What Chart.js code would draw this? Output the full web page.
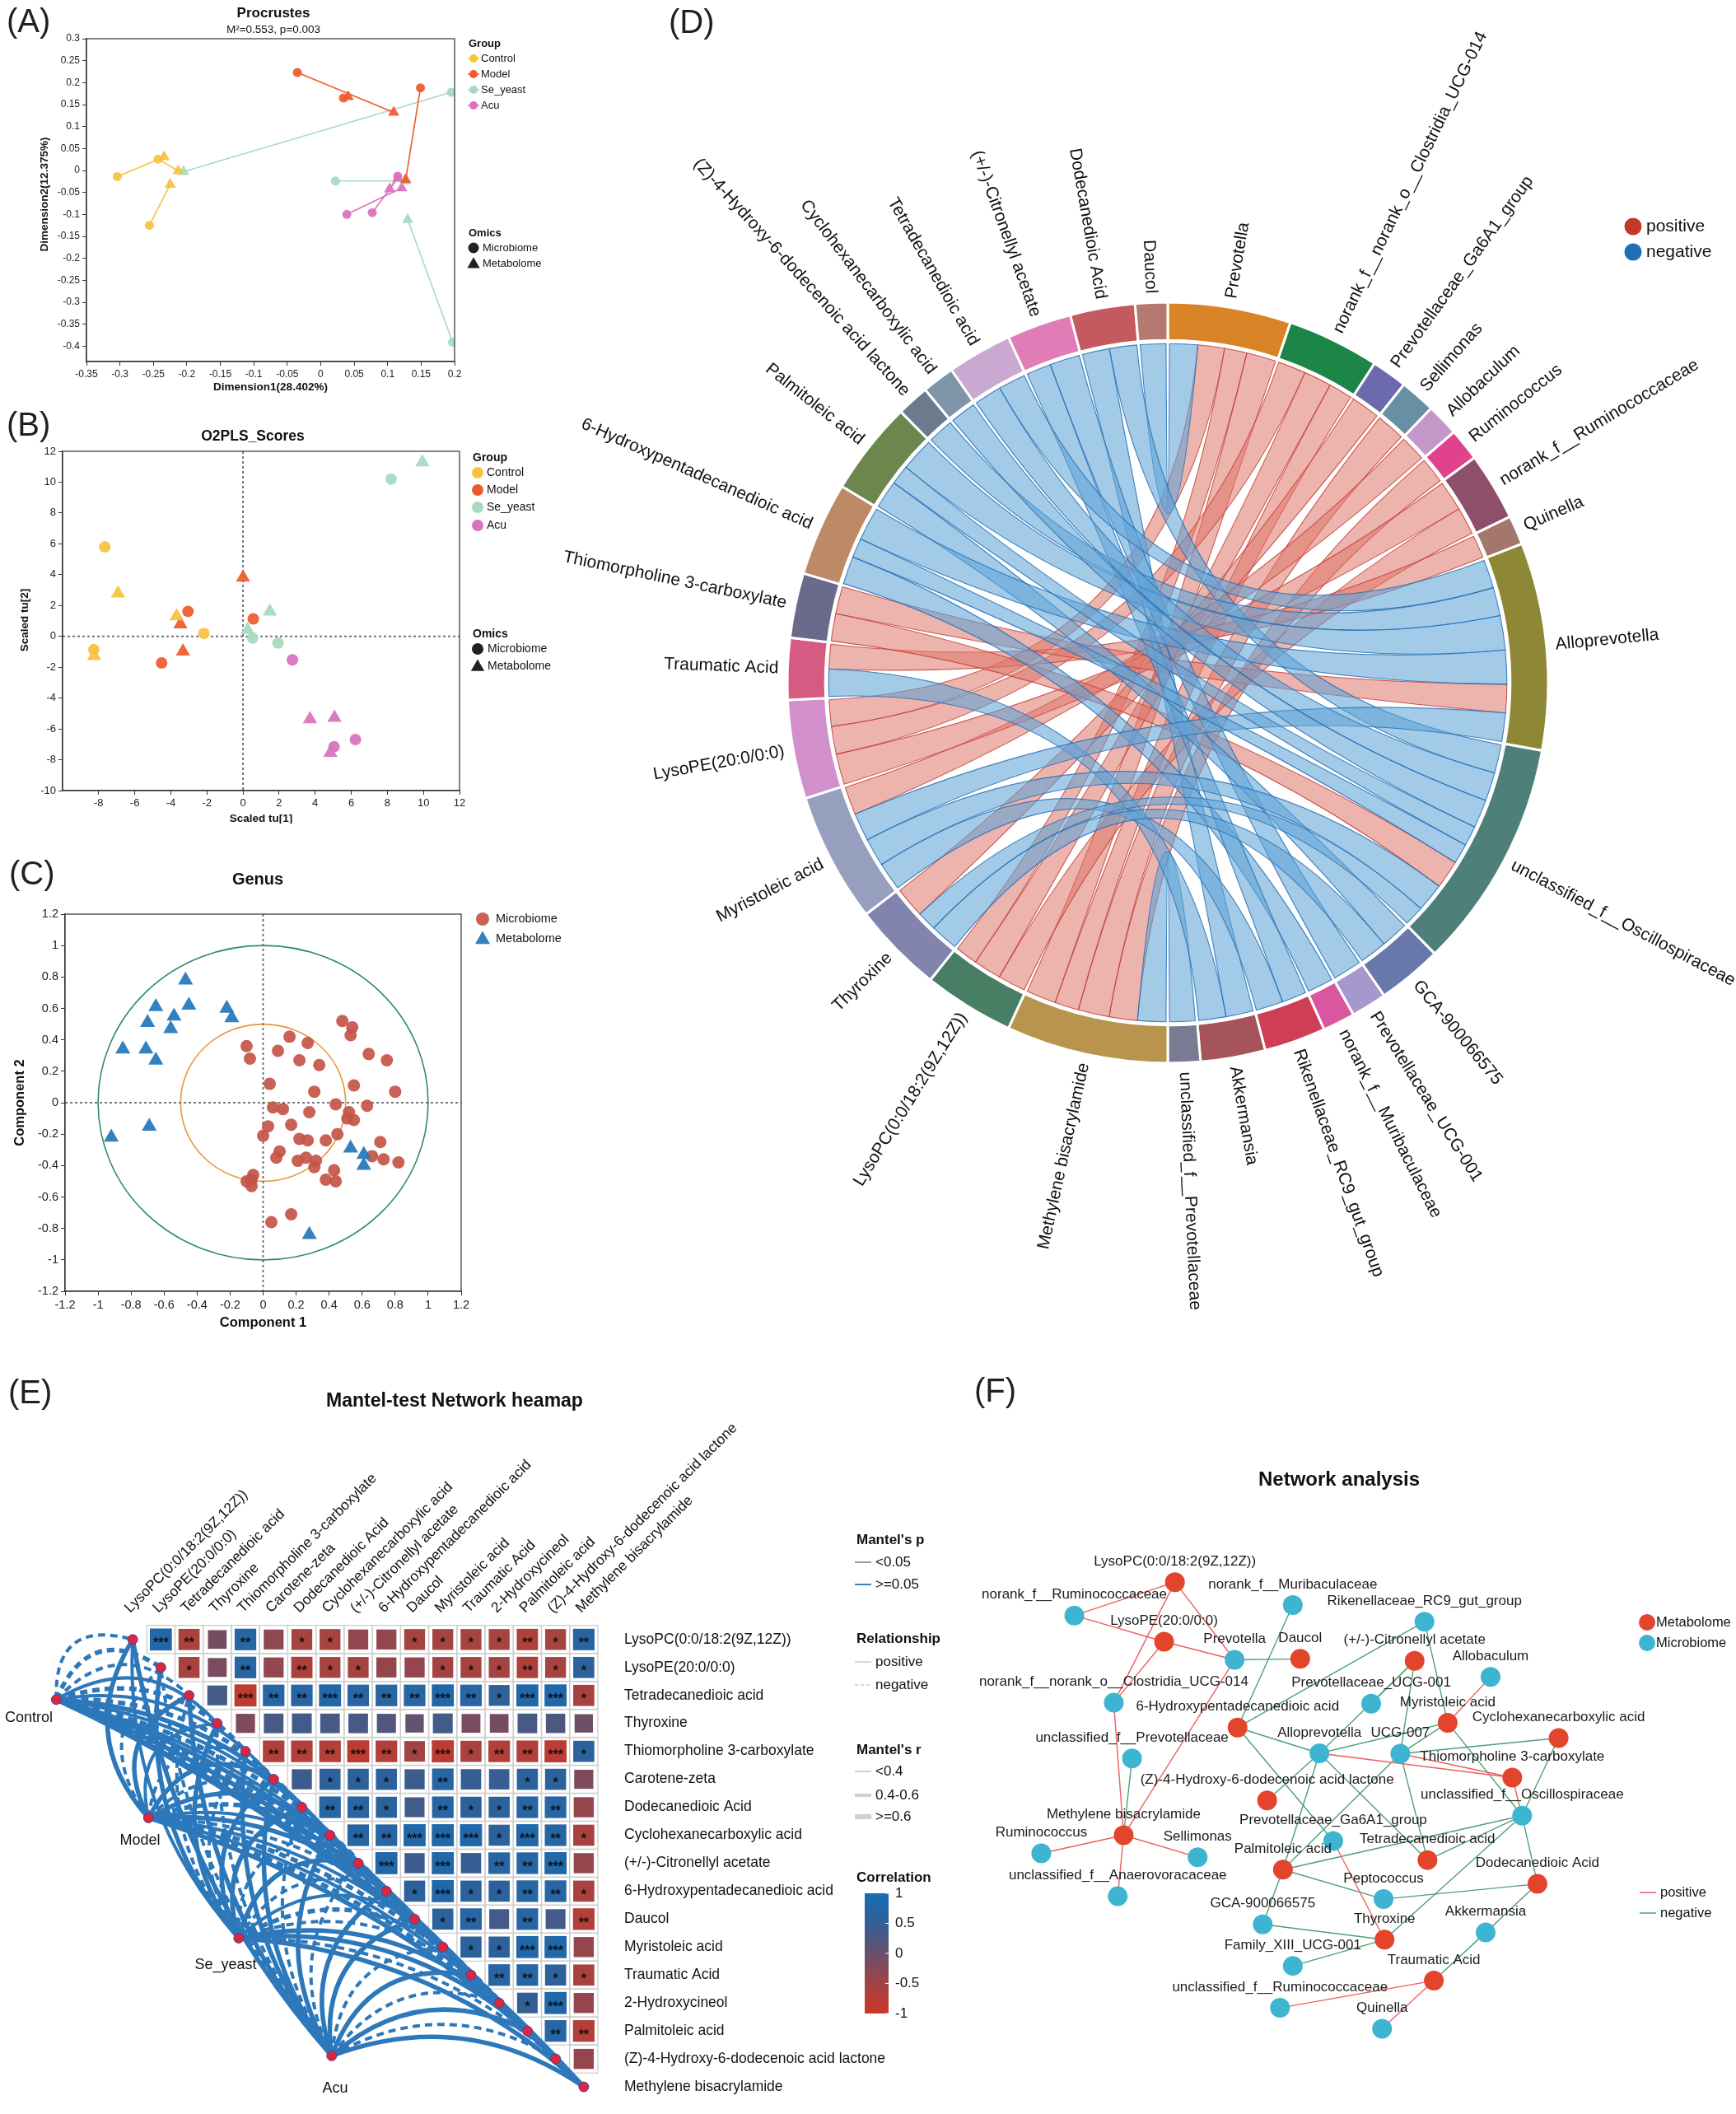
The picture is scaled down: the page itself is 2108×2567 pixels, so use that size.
<!DOCTYPE html>
<html>
<head>
<meta charset="utf-8">
<title>Multi-omics integration figure</title>
<script src="https://cdn.jsdelivr.net/npm/chart.js@4.4.1/dist/chart.umd.min.js"></script>
<style>
  html, body { margin: 0; padding: 0; background: #fff; }
  #page { position: relative; width: 2108px; height: 2567px; overflow: hidden; background: #fff; }
  #page canvas { position: absolute; }
  .tag { position: absolute; font: 40px Arial, "Liberation Sans", sans-serif; line-height: 40px; color: #231f20; }
</style>
</head>
<body>
<div id="page">
  <canvas id="chartA" width="700" height="480" style="left:0;top:0"></canvas>
  <canvas id="chartB" width="700" height="520" style="left:0;top:480px"></canvas>
  <canvas id="chartC" width="700" height="640" style="left:0;top:1000px"></canvas>
  <canvas id="chartD" width="1508" height="1640" style="left:600px;top:0"></canvas>
  <canvas id="chartE" width="1150" height="927" style="left:0;top:1640px"></canvas>
  <canvas id="chartF" width="958" height="927" style="left:1150px;top:1640px"></canvas>
  <div class="tag" style="left:8px;top:5px">(A)</div>
  <div class="tag" style="left:8px;top:495px">(B)</div>
  <div class="tag" style="left:11px;top:1040px">(C)</div>
  <div class="tag" style="left:812px;top:6px">(D)</div>
  <div class="tag" style="left:10px;top:1670px">(E)</div>
  <div class="tag" style="left:1183px;top:1668px">(F)</div>
</div>
<script>
// ================= data =================
const groupNames = ['Control', 'Model', 'Se_yeast', 'Acu'];
const groupColors = ['#F8C23F', '#EE5A2F', '#A6DBBF', '#D873BE'];

// (A) Procrustes - microbiome point i is paired with metabolome point i
const procCtrlMicro = [[-0.304, -0.014], [-0.243, 0.026], [-0.256, -0.125]];
const procCtrlMeta = [[-0.234, 0.031], [-0.213, -0.001], [-0.225, -0.032]];
const procModelMicro = [[-0.035, 0.223], [0.034, 0.165], [0.149, 0.188]];
const procModelMeta = [[0.109, 0.132], [0.041, 0.168], [0.127, -0.021]];
const procSeMicro = [[0.195, 0.178], [0.022, -0.024], [0.197, -0.391]];
const procSeMeta = [[-0.205, -0.003], [0.126, -0.024], [0.130, -0.112]];
const procAcuMicro = [[0.039, -0.100], [0.077, -0.096], [0.115, -0.013]];
const procAcuMeta = [[0.121, -0.040], [0.115, -0.018], [0.103, -0.042]];
const procXTicks = [-0.35, -0.3, -0.25, -0.2, -0.15, -0.1, -0.05, 0, 0.05, 0.1, 0.15, 0.2];
const procYTicks = [0.3, 0.25, 0.2, 0.15, 0.1, 0.05, 0, -0.05, -0.1, -0.15, -0.2, -0.25, -0.3, -0.35, -0.4];

// (B) O2PLS scores
const o2CtrlMicro = [[-7.66, 5.80], [-2.17, 0.19], [-8.27, -0.86]];
const o2CtrlMeta = [[-6.93, 2.79], [-3.68, 1.31], [-8.25, -1.27]];
const o2ModelMicro = [[-3.05, 1.62], [0.57, 1.13], [-4.51, -1.72]];
const o2ModelMeta = [[0.0, 3.82], [-3.47, 0.78], [-3.33, -0.97]];
const o2SeMicro = [[8.21, 10.20], [0.53, -0.11], [1.94, -0.43]];
const o2SeMeta = [[9.94, 11.29], [1.49, 1.62], [0.25, 0.42]];
const o2AcuMicro = [[6.23, -6.69], [5.05, -7.15], [2.74, -1.52]];
const o2AcuMeta = [[3.71, -5.37], [5.07, -5.28], [4.84, -7.54]];
const o2XTicks = [-8, -6, -4, -2, 0, 2, 4, 6, 8, 10, 12];
const o2YTicks = [-10, -8, -6, -4, -2, 0, 2, 4, 6, 8, 10, 12];

// (C) Genus loadings
const genusMicro = [[0.48, 0.52], [0.54, 0.48], [0.53, 0.43], [0.16, 0.42], [0.27, 0.38], [-0.10, 0.36],
  [0.09, 0.33], [-0.08, 0.28], [0.22, 0.27], [0.34, 0.24], [0.64, 0.31], [0.75, 0.27], [0.04, 0.12],
  [0.55, 0.11], [0.31, 0.07], [0.80, 0.07], [0.44, -0.01], [0.63, -0.02], [0.06, -0.03], [0.12, -0.04],
  [0.28, -0.06], [0.52, -0.06], [0.51, -0.10], [0.55, -0.11], [0.17, -0.14], [0.03, -0.15], [0.00, -0.21],
  [0.45, -0.20], [0.22, -0.23], [0.27, -0.24], [0.38, -0.24], [0.71, -0.25], [0.10, -0.31], [0.08, -0.35],
  [0.21, -0.37], [0.26, -0.35], [0.32, -0.37], [0.31, -0.41], [0.66, -0.34], [0.73, -0.36], [0.82, -0.38],
  [0.43, -0.43], [0.44, -0.50], [0.38, -0.49], [-0.06, -0.46], [-0.10, -0.50], [-0.07, -0.49],
  [-0.07, -0.53], [0.17, -0.71], [0.05, -0.76]];
const genusMeta = [[-0.47, 0.78], [-0.65, 0.61], [-0.45, 0.62], [-0.22, 0.60], [-0.19, 0.54], [-0.54, 0.55],
  [-0.70, 0.51], [-0.56, 0.47], [-0.85, 0.34], [-0.71, 0.34], [-0.65, 0.27], [-0.69, -0.15], [-0.92, -0.22],
  [0.53, -0.29], [0.61, -0.33], [0.61, -0.40], [0.28, -0.84]];
const genusTicks = [-1.2, -1, -0.8, -0.6, -0.4, -0.2, 0, 0.2, 0.4, 0.6, 0.8, 1, 1.2];

// (D) chord diagram - sectors clockwise from 12 o'clock
const chordMicrobes = ['Prevotella', 'norank_f__norank_o__Clostridia_UCG-014', 'Prevotellaceae_Ga6A1_group',
  'Sellimonas', 'Allobaculum', 'Ruminococcus', 'norank_f__Ruminococcaceae', 'Quinella', 'Alloprevotella',
  'unclassified_f__Oscillospiraceae', 'GCA-900066575', 'Prevotellaceae_UCG-001', 'norank_f__Muribaculaceae',
  'Rikenellaceae_RC9_gut_group', 'Akkermansia', 'unclassified_f__Prevotellaceae'];
const chordMetabolites = ['Methylene bisacrylamide', 'LysoPC(0:0/18:2(9Z,12Z))', 'Thyroxine', 'Myristoleic acid',
  'LysoPE(20:0/0:0)', 'Traumatic Acid', 'Thiomorpholine 3-carboxylate', '6-Hydroxypentadecanedioic acid',
  'Palmitoleic acid', '(Z)-4-Hydroxy-6-dodecenoic acid lactone', 'Cyclohexanecarboxylic acid',
  'Tetradecanedioic acid', '(+/-)-Citronellyl acetate', 'Dodecanedioic Acid', 'Daucol'];
const chordColors = ['#D98327', '#1C8548', '#6B6AAD', '#6791A3', '#C597C9', '#E2428C', '#8D4F6A', '#A3766E',
  '#8D8736', '#4F7F79', '#6878AA', '#A697CD', '#D957A0', '#CF3D57', '#A4545A', '#7A7A93',
  '#B8944E', '#487E63', '#8284AD', '#979FBF', '#D18FCB', '#D65B82', '#6A6A8C', '#BE8A66', '#6B874D',
  '#6D7A8E', '#7E95AA', '#C9A9D1', '#E07CB6', '#C45A60', '#B47A70'];
const chordLinkMicrobe = ['Prevotella', 'Prevotella', 'Prevotella', 'norank_f__norank_o__Clostridia_UCG-014',
  'norank_f__norank_o__Clostridia_UCG-014', 'norank_f__norank_o__Clostridia_UCG-014', 'Prevotellaceae_Ga6A1_group',
  'Sellimonas', 'Allobaculum', 'Ruminococcus', 'norank_f__Ruminococcaceae', 'norank_f__Ruminococcaceae', 'Quinella',
  'Alloprevotella', 'unclassified_f__Oscillospiraceae',
  'Prevotella', 'unclassified_f__Prevotellaceae', 'Akkermansia', 'Akkermansia', 'unclassified_f__Oscillospiraceae',
  'norank_f__Muribaculaceae', 'Rikenellaceae_RC9_gut_group', 'Rikenellaceae_RC9_gut_group', 'Prevotellaceae_UCG-001',
  'GCA-900066575', 'GCA-900066575', 'unclassified_f__Oscillospiraceae', 'Alloprevotella', 'Alloprevotella',
  'Alloprevotella', 'Alloprevotella', 'Alloprevotella', 'unclassified_f__Oscillospiraceae',
  'unclassified_f__Oscillospiraceae', 'unclassified_f__Oscillospiraceae', 'unclassified_f__Oscillospiraceae',
  'unclassified_f__Oscillospiraceae'];
const chordLinkMetabolite = ['Methylene bisacrylamide', 'LysoPC(0:0/18:2(9Z,12Z))', 'LysoPE(20:0/0:0)',
  'Methylene bisacrylamide', 'LysoPC(0:0/18:2(9Z,12Z))', 'LysoPE(20:0/0:0)', 'Thyroxine', 'Methylene bisacrylamide',
  'Myristoleic acid', 'Methylene bisacrylamide', 'LysoPC(0:0/18:2(9Z,12Z))', 'LysoPE(20:0/0:0)', 'Traumatic Acid',
  'Thiomorpholine 3-carboxylate', 'Thiomorpholine 3-carboxylate',
  'Daucol', 'Methylene bisacrylamide', 'Traumatic Acid', 'Dodecanedioic Acid', 'Dodecanedioic Acid',
  '6-Hydroxypentadecanedioic acid', 'Myristoleic acid', '(+/-)-Citronellyl acetate', '(+/-)-Citronellyl acetate',
  'Palmitoleic acid', 'Thyroxine', 'Thyroxine', '6-Hydroxypentadecanedioic acid',
  '(Z)-4-Hydroxy-6-dodecenoic acid lactone', 'Palmitoleic acid', 'Tetradecanedioic acid', 'Myristoleic acid',
  'Cyclohexanecarboxylic acid', '6-Hydroxypentadecanedioic acid', 'Myristoleic acid', 'Palmitoleic acid',
  'Tetradecanedioic acid'];
const chordLinkWeight = [1.05, 0.8, 0.95, 0.85, 1.0, 1.0, 1.1, 1.1, 1.0, 1.0, 1.0, 1.1, 0.9, 1.0, 1.0,
  1.0, 1.0, 1.0, 1.0, 1.0, 1.0, 1.0, 0.9, 1.1, 1.0, 1.0, 0.7, 1.2, 1.0, 1.2, 1.0, 1.0, 1.0, 0.7, 1.0, 0.7, 1.0];
const chordLinkSign = [1, 1, 1, 1, 1, 1, 1, 1, 1, 1, 1, 1, 1, 1, 1,
  -1, -1, -1, -1, -1, -1, -1, -1, -1, -1, -1, -1, -1, -1, -1, -1, -1, -1, -1, -1, -1, -1];

// (E) Mantel test heatmap (upper triangle, row i holds columns i+1..17)
const mantelVars = ['LysoPC(0:0/18:2(9Z,12Z))', 'LysoPE(20:0/0:0)', 'Tetradecanedioic acid', 'Thyroxine',
  'Thiomorpholine 3-carboxylate', 'Carotene-zeta', 'Dodecanedioic Acid', 'Cyclohexanecarboxylic acid',
  '(+/-)-Citronellyl acetate', '6-Hydroxypentadecanedioic acid', 'Daucol', 'Myristoleic acid', 'Traumatic Acid',
  '2-Hydroxycineol', 'Palmitoleic acid', '(Z)-4-Hydroxy-6-dodecenoic acid lactone', 'Methylene bisacrylamide'];
const mantelCorr = [
  [0.78, -0.62, -0.12, 0.7, -0.35, -0.55, -0.55, -0.38, -0.38, -0.55, -0.55, -0.55, -0.55, -0.65, -0.55, 0.68],
  [-0.58, -0.15, 0.7, -0.38, -0.65, -0.55, -0.55, -0.4, -0.4, -0.55, -0.55, -0.55, -0.65, -0.55, 0.6],
  [0.35, -0.8, 0.7, 0.7, 0.8, 0.7, 0.7, 0.7, 0.8, 0.7, 0.55, 0.8, 0.8, -0.6],
  [-0.2, 0.3, 0.35, 0.3, 0.3, 0.2, 0.05, 0.35, -0.15, -0.12, 0.3, 0.25, -0.05],
  [-0.7, -0.7, -0.7, -0.8, -0.7, -0.5, -0.8, -0.6, -0.7, -0.7, -0.8, 0.6],
  [0.4, 0.6, 0.6, 0.6, 0.4, 0.7, 0.45, 0.45, 0.6, 0.6, -0.2],
  [0.7, 0.7, 0.6, 0.35, 0.7, 0.6, 0.6, 0.7, 0.7, -0.4],
  [0.7, 0.7, 0.8, 0.8, 0.8, 0.6, 0.8, 0.7, -0.6],
  [0.8, 0.4, 0.8, 0.45, 0.7, 0.7, 0.8, -0.4],
  [0.6, 0.8, 0.6, 0.6, 0.7, 0.7, -0.6],
  [0.6, 0.7, 0.35, 0.7, 0.35, -0.7],
  [0.6, 0.6, 0.8, 0.8, -0.4],
  [0.7, 0.7, 0.6, -0.6],
  [0.5, 0.8, -0.4],
  [0.7, -0.7],
  [-0.4]];
const mantelStars = [
  [3, 2, 0, 2, 0, 1, 1, 0, 0, 1, 1, 1, 1, 2, 1, 2],
  [1, 0, 2, 0, 2, 1, 1, 0, 0, 1, 1, 1, 2, 1, 1],
  [0, 3, 2, 2, 3, 2, 2, 2, 3, 2, 1, 3, 3, 1],
  [0, 0, 0, 0, 0, 0, 0, 0, 0, 0, 0, 0, 0],
  [2, 2, 2, 3, 2, 1, 3, 1, 2, 2, 3, 1],
  [0, 1, 1, 1, 0, 2, 0, 0, 1, 1, 0],
  [2, 2, 1, 0, 2, 1, 1, 2, 2, 0],
  [2, 2, 3, 3, 3, 1, 3, 2, 1],
  [3, 0, 3, 0, 2, 2, 3, 0],
  [1, 3, 1, 1, 2, 2, 1],
  [1, 2, 0, 2, 0, 2],
  [1, 1, 3, 3, 0],
  [2, 2, 1, 1],
  [1, 3, 0],
  [2, 2],
  [0]];
// group nodes, in column / row units of the heatmap grid
const mantelGroupX = [-1.71, 1.56, 4.76, 8.06];
const mantelGroupY = [3.15, 7.38, 11.68, 15.89];
// relationship (1 positive, -1 negative) and Mantel's r class (0 <0.4, 1 0.4-0.6, 2 >=0.6)
const mantelSignControl = [-1, -1, -1, 1, -1, 1, -1, 1, 1, -1, 1, 1, -1, 1, -1, 1, 1];
const mantelSignModel = [1, -1, 1, 1, -1, 1, -1, 1, -1, 1, 1, -1, 1, -1, 1, -1, 1];
const mantelSignSe = [1, 1, -1, 1, -1, 1, 1, -1, 1, -1, 1, -1, -1, 1, 1, -1, 1];
const mantelSignAcu = [1, -1, 1, -1, 1, 1, -1, 1, -1, 1, 1, -1, 1, -1, 1, -1, 1];
const mantelRControl = [1, 2, 1, 1, 2, 1, 2, 2, 1, 2, 1, 2, 1, 2, 2, 1, 2];
const mantelRModel = [2, 1, 2, 1, 1, 2, 1, 2, 2, 1, 2, 1, 1, 2, 1, 2, 2];
const mantelRSe = [1, 2, 1, 2, 1, 2, 2, 1, 2, 1, 1, 2, 1, 2, 2, 1, 2];
const mantelRAcu = [2, 1, 2, 1, 2, 2, 1, 2, 1, 2, 2, 1, 2, 1, 2, 1, 2];

// (F) correlation network, layout coordinates
const netMetaNames = ['LysoPC(0:0/18:2(9Z,12Z))', 'LysoPE(20:0/0:0)', 'Daucol', '(+/-)-Citronellyl acetate',
  '6-Hydroxypentadecanedioic acid', 'Myristoleic acid', 'Cyclohexanecarboxylic acid', 'Thiomorpholine 3-carboxylate',
  '(Z)-4-Hydroxy-6-dodecenoic acid lactone', 'Methylene bisacrylamide', 'Tetradecanedioic acid', 'Palmitoleic acid',
  'Dodecanedioic Acid', 'Thyroxine', 'Traumatic Acid'];
const netMetaPos = [[44.2, 46.5], [42.0, 59.0], [69.6, 62.6], [92.8, 63.0], [56.9, 77.0], [99.5, 76.0],
  [122.0, 79.2], [112.6, 87.5], [62.9, 92.3], [33.8, 99.6], [95.4, 104.8], [66.1, 106.8], [117.7, 109.8],
  [86.7, 121.5], [96.7, 130.1]];
const netMicroNames = ['norank_f__Ruminococcaceae', 'norank_f__Muribaculaceae', 'Rikenellaceae_RC9_gut_group',
  'Prevotella', 'Allobaculum', 'norank_f__norank_o__Clostridia_UCG-014', 'Prevotellaceae_UCG-001',
  'unclassified_f__Prevotellaceae', 'Alloprevotella', 'UCG-007', 'unclassified_f__Oscillospiraceae',
  'Prevotellaceae_Ga6A1_group', 'Ruminococcus', 'Sellimonas', 'unclassified_f__Anaerovoracaceae', 'Peptococcus',
  'GCA-900066575', 'Akkermansia', 'Family_XIII_UCG-001', 'unclassified_f__Ruminococcaceae', 'Quinella'];
const netMicroPos = [[23.8, 53.5], [68.1, 51.3], [94.8, 54.8], [56.3, 62.8], [108.2, 66.4], [31.8, 71.8],
  [84.0, 72.0], [35.5, 83.5], [73.5, 82.4], [89.9, 82.5], [114.6, 95.5], [76.3, 100.8], [17.1, 103.4],
  [48.8, 104.2], [32.6, 112.4], [86.5, 113.0], [62.0, 118.3], [107.2, 120.0], [68.1, 127.0], [65.5, 135.8],
  [86.2, 140.2]];
const netPositive = [
  ['LysoPC(0:0/18:2(9Z,12Z))', 'norank_f__Ruminococcaceae'], ['LysoPC(0:0/18:2(9Z,12Z))', 'Prevotella'],
  ['LysoPC(0:0/18:2(9Z,12Z))', 'norank_f__norank_o__Clostridia_UCG-014'], ['LysoPE(20:0/0:0)', 'norank_f__Ruminococcaceae'],
  ['LysoPE(20:0/0:0)', 'Prevotella'], ['LysoPE(20:0/0:0)', 'norank_f__norank_o__Clostridia_UCG-014'],
  ['Methylene bisacrylamide', 'Prevotella'], ['Methylene bisacrylamide', 'norank_f__norank_o__Clostridia_UCG-014'],
  ['Methylene bisacrylamide', 'Ruminococcus'], ['Methylene bisacrylamide', 'Sellimonas'],
  ['Methylene bisacrylamide', 'unclassified_f__Anaerovoracaceae'], ['Myristoleic acid', 'Allobaculum'],
  ['Thiomorpholine 3-carboxylate', 'Alloprevotella'], ['Thiomorpholine 3-carboxylate', 'UCG-007'],
  ['Thiomorpholine 3-carboxylate', 'unclassified_f__Oscillospiraceae'], ['Thyroxine', 'Prevotellaceae_Ga6A1_group'],
  ['Traumatic Acid', 'unclassified_f__Ruminococcaceae'], ['Traumatic Acid', 'Quinella']];
const netNegative = [
  ['6-Hydroxypentadecanedioic acid', 'norank_f__Muribaculaceae'], ['Daucol', 'Prevotella'],
  ['6-Hydroxypentadecanedioic acid', 'Rikenellaceae_RC9_gut_group'], ['Myristoleic acid', 'Rikenellaceae_RC9_gut_group'],
  ['(+/-)-Citronellyl acetate', 'Alloprevotella'], ['(+/-)-Citronellyl acetate', 'Prevotellaceae_UCG-001'],
  ['(+/-)-Citronellyl acetate', 'UCG-007'], ['Myristoleic acid', 'Alloprevotella'],
  ['6-Hydroxypentadecanedioic acid', 'Alloprevotella'], ['6-Hydroxypentadecanedioic acid', 'Prevotellaceae_Ga6A1_group'],
  ['(Z)-4-Hydroxy-6-dodecenoic acid lactone', 'Alloprevotella'], ['Palmitoleic acid', 'Alloprevotella'],
  ['Tetradecanedioic acid', 'Alloprevotella'], ['Myristoleic acid', 'UCG-007'],
  ['Myristoleic acid', 'unclassified_f__Oscillospiraceae'], ['Cyclohexanecarboxylic acid', 'UCG-007'],
  ['Tetradecanedioic acid', 'UCG-007'], ['Palmitoleic acid', 'UCG-007'],
  ['Cyclohexanecarboxylic acid', 'unclassified_f__Oscillospiraceae'], ['Palmitoleic acid', 'unclassified_f__Oscillospiraceae'],
  ['Tetradecanedioic acid', 'unclassified_f__Oscillospiraceae'], ['Dodecanedioic Acid', 'unclassified_f__Oscillospiraceae'],
  ['Thyroxine', 'unclassified_f__Oscillospiraceae'], ['Palmitoleic acid', 'Peptococcus'],
  ['Palmitoleic acid', 'GCA-900066575'], ['Dodecanedioic Acid', 'Peptococcus'], ['Thyroxine', 'GCA-900066575'],
  ['Thyroxine', 'Family_XIII_UCG-001'], ['Dodecanedioic Acid', 'Akkermansia'], ['Traumatic Acid', 'Akkermansia'],
  ['Methylene bisacrylamide', 'unclassified_f__Prevotellaceae']];

// ================= helpers =================
const FONT = 'Arial, "Liberation Sans", Helvetica, sans-serif';
Chart.defaults.font.family = FONT;
Chart.defaults.animation = false;
Chart.defaults.events = [];
Chart.defaults.plugins.legend.display = false;
Chart.defaults.plugins.tooltip.enabled = false;

function drawText(ctx, s, x, y, o = {}) {
  ctx.save();
  ctx.font = (o.weight || 'normal') + ' ' + (o.size || 14) + 'px ' + FONT;
  ctx.fillStyle = o.color || '#111';
  ctx.textAlign = o.align || 'left';
  ctx.textBaseline = o.base || 'middle';
  ctx.translate(x, y);
  if (o.rot) ctx.rotate(o.rot);
  ctx.fillText(s, 0, 0);
  ctx.restore();
}
function seg(ctx, x1, y1, x2, y2, color, width, dash) {
  ctx.save();
  ctx.strokeStyle = color; ctx.lineWidth = width; ctx.setLineDash(dash || []);
  ctx.beginPath(); ctx.moveTo(x1, y1); ctx.lineTo(x2, y2); ctx.stroke();
  ctx.restore();
}
function marker(ctx, style, r, x, y, color) {
  ctx.save();
  ctx.fillStyle = color;
  Chart.helpers.drawPoint(ctx, { pointStyle: style, radius: r, rotation: 0, borderWidth: 0 }, x, y);
  ctx.restore();
}
function frame(ctx, a) {
  ctx.save(); ctx.strokeStyle = '#333'; ctx.lineWidth = 1.2;
  ctx.strokeRect(a.left, a.top, a.right - a.left, a.bottom - a.top); ctx.restore();
}
function zeroLines(chart) {
  const { ctx, chartArea: a, scales: { x, y } } = chart;
  const x0 = x.getPixelForValue(0), y0 = y.getPixelForValue(0);
  seg(ctx, a.left, y0, a.right, y0, '#666', 1.8, [3, 3]);
  seg(ctx, x0, a.top, x0, a.bottom, '#666', 1.8, [3, 3]);
}
const fmtTick = v => String(Math.round(v * 1000) / 1000);
const pts = arr => arr.map(p => ({ x: p[0], y: p[1] }));

function linAxis(min, max, ticks, size, fixed, vertical) {
  return {
    type: 'linear', min: min, max: max,
    afterBuildTicks: s => { s.ticks = ticks.map(v => ({ value: v })); },
    afterFit: s => { if (vertical) s.width = fixed; else s.height = fixed; },
    grid: { drawOnChartArea: false, drawTicks: true, tickLength: 5, color: '#333', lineWidth: 1 },
    border: { display: true, color: '#333', width: 1.2 },
    ticks: { color: '#222', font: { size: size }, padding: 3, maxRotation: 0, autoSkip: false, callback: v => fmtTick(v) }
  };
}

function groupLegend(ctx, L) {
  drawText(ctx, 'Group', L.x, L.titleY, { size: L.font, weight: 'bold' });
  groupNames.forEach((g, k) => {
    const y = L.ys[k];
    if (L.line) seg(ctx, L.mx - 7, y, L.mx + 7, y, groupColors[k], 1.5);
    marker(ctx, 'circle', L.r, L.mx, y, groupColors[k]);
    drawText(ctx, g, L.tx, y, { size: L.font });
  });
  drawText(ctx, 'Omics', L.x, L.omicsY, { size: L.font, weight: 'bold' });
  marker(ctx, 'circle', L.or, L.mx, L.oys[0], '#222');
  drawText(ctx, 'Microbiome', L.otx, L.oys[0], { size: L.font });
  marker(ctx, 'triangle', L.or * 1.35, L.mx, L.oys[1] + 1, '#222');
  drawText(ctx, 'Metabolome', L.otx, L.oys[1], { size: L.font });
}

function pairedScatterSets(micro, meta, rc, rt, withLines) {
  const sets = [];
  groupNames.forEach((g, k) => {
    if (withLines) {
      micro[k].forEach((p, i) => sets.push({
        data: pts([p, meta[k][i]]), showLine: true, borderColor: groupColors[k], borderWidth: 1.6,
        pointRadius: 0, order: 3
      }));
    }
    sets.push({ data: pts(micro[k]), pointStyle: 'circle', pointRadius: rc, backgroundColor: groupColors[k] + 'EE', borderWidth: 0, order: 2 });
    sets.push({ data: pts(meta[k]), pointStyle: 'triangle', pointRadius: rt, backgroundColor: groupColors[k] + 'EE', borderWidth: 0, order: 1 });
  });
  return sets;
}

// ================= (A) Procrustes =================
new Chart(document.getElementById('chartA'), {
  type: 'scatter',
  data: { datasets: pairedScatterSets(
    [procCtrlMicro, procModelMicro, procSeMicro, procAcuMicro],
    [procCtrlMeta, procModelMeta, procSeMeta, procAcuMeta], 5.5, 8, true) },
  options: {
    responsive: false,
    layout: { padding: { left: 65, right: 148, top: 47, bottom: 1 } },
    scales: {
      x: linAxis(-0.35, 0.2, procXTicks, 12, 40, false),
      y: linAxis(-0.435, 0.3, procYTicks, 12, 40, true)
    }
  },
  plugins: [{
    id: 'procDecor',
    afterDraw(chart) {
      const ctx = chart.ctx, a = chart.chartArea;
      frame(ctx, a);
      drawText(ctx, 'Procrustes', 332, 16, { size: 17, weight: 'bold', align: 'center' });
      drawText(ctx, 'M²=0.553, p=0.003', 332, 36, { size: 13.5, align: 'center' });
      drawText(ctx, 'Dimension1(28.402%)', (a.left + a.right) / 2, 470, { size: 13.5, weight: 'bold', align: 'center' });
      drawText(ctx, 'Dimension2(12.375%)', 54, 236, { size: 13.5, weight: 'bold', align: 'center', rot: -Math.PI / 2 });
      groupLegend(ctx, { x: 569, titleY: 53, ys: [71, 90, 109, 128], mx: 575, tx: 584, r: 5, font: 13, line: true,
        omicsY: 283, oys: [301, 320], or: 6.5, otx: 586 });
    }
  }]
});

// ================= (B) O2PLS =================
new Chart(document.getElementById('chartB'), {
  type: 'scatter',
  data: { datasets: pairedScatterSets(
    [o2CtrlMicro, o2ModelMicro, o2SeMicro, o2AcuMicro],
    [o2CtrlMeta, o2ModelMeta, o2SeMeta, o2AcuMeta], 7, 10, false) },
  options: {
    responsive: false,
    layout: { padding: { left: 36, right: 142, top: 68, bottom: 10 } },
    scales: {
      x: linAxis(-10, 12, o2XTicks, 13, 30, false),
      y: linAxis(-10, 12, o2YTicks, 13, 40, true)
    }
  },
  plugins: [{
    id: 'o2Decor',
    beforeDatasetsDraw(chart) { zeroLines(chart); },
    afterDraw(chart) {
      const ctx = chart.ctx, a = chart.chartArea;
      frame(ctx, a);
      drawText(ctx, 'O2PLS_Scores', 307, 50, { size: 17.5, weight: 'bold', align: 'center' });
      drawText(ctx, 'Scaled tu[1]', (a.left + a.right) / 2, 514, { size: 13.5, weight: 'bold', align: 'center' });
      drawText(ctx, 'Scaled tu[2]', 30, 273, { size: 13.5, weight: 'bold', align: 'center', rot: -Math.PI / 2 });
      groupLegend(ctx, { x: 574, titleY: 76, ys: [94, 115, 136, 158], mx: 580, tx: 591, r: 7, font: 14, line: false,
        omicsY: 290, oys: [308, 329], or: 7, otx: 592 });
    }
  }]
});

// ================= (C) Genus =================
new Chart(document.getElementById('chartC'), {
  type: 'scatter',
  data: { datasets: [
    { data: pts(genusMicro), pointStyle: 'circle', pointRadius: 7.5, backgroundColor: 'rgba(196,84,70,0.92)', borderWidth: 0, order: 2 },
    { data: pts(genusMeta), pointStyle: 'triangle', pointRadius: 10.5, backgroundColor: 'rgba(40,122,190,0.95)', borderWidth: 0, order: 1 }
  ] },
  options: {
    responsive: false,
    layout: { padding: { left: 39, right: 140, top: 110, bottom: 42 } },
    scales: {
      x: linAxis(-1.2, 1.2, genusTicks, 14.5, 30, false),
      y: linAxis(-1.2, 1.2, genusTicks, 14.5, 40, true)
    }
  },
  plugins: [{
    id: 'genusDecor',
    beforeDatasetsDraw(chart) {
      const { ctx, scales: { x, y } } = chart;
      const cx = x.getPixelForValue(0), cy = y.getPixelForValue(0);
      const ux = x.getPixelForValue(1) - cx, uy = cy - y.getPixelForValue(1);
      ctx.save();
      ctx.lineWidth = 1.6;
      ctx.strokeStyle = '#2E8B66';
      ctx.beginPath(); ctx.ellipse(cx, cy, ux, uy, 0, 0, Math.PI * 2); ctx.stroke();
      ctx.strokeStyle = '#E39B3A';
      ctx.beginPath(); ctx.ellipse(cx, cy, ux * 0.5, uy * 0.5, 0, 0, Math.PI * 2); ctx.stroke();
      ctx.restore();
      zeroLines(chart);
    },
    afterDraw(chart) {
      const ctx = chart.ctx, a = chart.chartArea;
      frame(ctx, a);
      drawText(ctx, 'Genus', 313, 68, { size: 20, weight: 'bold', align: 'center' });
      drawText(ctx, 'Component 1', (a.left + a.right) / 2, 606, { size: 16.5, weight: 'bold', align: 'center' });
      drawText(ctx, 'Component 2', 24, (a.top + a.bottom) / 2, { size: 16.5, weight: 'bold', align: 'center', rot: -Math.PI / 2 });
      marker(ctx, 'circle', 8, 586, 116, 'rgba(196,84,70,0.92)');
      drawText(ctx, 'Microbiome', 602, 116, { size: 14.5 });
      marker(ctx, 'triangle', 10.5, 586, 141, 'rgba(40,122,190,0.95)');
      drawText(ctx, 'Metabolome', 602, 140, { size: 14.5 });
    }
  }]
});

// ================= (D) chord diagram =================
const chordNodes = chordMicrobes.concat(chordMetabolites);
const chordTotals = chordNodes.map(n => chordLinkWeight.reduce((s, w, i) =>
  s + ((chordLinkMicrobe[i] === n || chordLinkMetabolite[i] === n) ? w : 0), 0));

new Chart(document.getElementById('chartD'), {
  type: 'doughnut',
  data: {
    labels: chordNodes,
    datasets: [{ data: chordTotals, backgroundColor: chordColors, borderColor: '#ffffff', borderWidth: 3 }]
  },
  options: {
    responsive: false,
    radius: 462,
    cutout: '90%',
    layout: { padding: { left: 128, top: 18, right: 0, bottom: 0 } }
  },
  plugins: [{
    id: 'chordRibbons',
    afterDatasetsDraw(chart) {
      const ctx = chart.ctx;
      const arcs = chart.getDatasetMeta(0).data;
      const cx = arcs[0].x, cy = arcs[0].y;
      const rIn = arcs[0].innerRadius - 4;
      const TWO = Math.PI * 2;
      const mid = arcs.map(a => (a.startAngle + a.endAngle) / 2);
      const slots = {};
      chordNodes.forEach((n, k) => {
        const own = [];
        chordLinkWeight.forEach((w, i) => {
          if (chordLinkMicrobe[i] === n) own.push({ key: i + 'm', i, other: chordNodes.indexOf(chordLinkMetabolite[i]) });
          else if (chordLinkMetabolite[i] === n) own.push({ key: i + 'b', i, other: chordNodes.indexOf(chordLinkMicrobe[i]) });
        });
        const off = o => ((mid[o.other] - mid[k]) % TWO + TWO) % TWO;
        own.sort((p, q) => off(q) - off(p));
        const pad = 0.005;
        const span = arcs[k].endAngle - arcs[k].startAngle - 2 * pad;
        let cur = arcs[k].startAngle + pad;
        own.forEach(o => {
          const w = chordLinkWeight[o.i] / chordTotals[k] * span;
          slots[o.key] = [cur, cur + w];
          cur += w;
        });
      });
      ctx.save();
      chordLinkWeight.forEach((w, i) => {
        const [a1, a2] = slots[i + 'm'];
        const [b1, b2] = slots[i + 'b'];
        ctx.beginPath();
        ctx.arc(cx, cy, rIn, a1, a2);
        ctx.quadraticCurveTo(cx, cy, cx + rIn * Math.cos(b1), cy + rIn * Math.sin(b1));
        ctx.arc(cx, cy, rIn, b1, b2);
        ctx.quadraticCurveTo(cx, cy, cx + rIn * Math.cos(a1), cy + rIn * Math.sin(a1));
        ctx.closePath();
        const pos = chordLinkSign[i] > 0;
        ctx.fillStyle = pos ? 'rgba(222,118,108,0.55)' : 'rgba(96,163,214,0.58)';
        ctx.strokeStyle = pos ? 'rgba(196,62,52,0.85)' : 'rgba(36,112,182,0.85)';
        ctx.lineWidth = 1.1;
        ctx.fill(); ctx.stroke();
      });
      ctx.restore();
    },
    afterDraw(chart) {
      const ctx = chart.ctx;
      const arcs = chart.getDatasetMeta(0).data;
      arcs.forEach((a, k) => {
        const ang = (a.startAngle + a.endAngle) / 2;
        const R = a.outerRadius + 11;
        const x = a.x + Math.cos(ang) * R, y = a.y + Math.sin(ang) * R;
        const right = Math.cos(ang) >= 0;
        drawText(ctx, chordNodes[k], x, y, { size: 21, align: right ? 'left' : 'right', rot: right ? ang : ang + Math.PI });
      });
      marker(ctx, 'circle', 10.5, 1383, 275, '#C0392B');
      drawText(ctx, 'positive', 1399, 275, { size: 21 });
      marker(ctx, 'circle', 10.5, 1383, 306, '#1F6FB4');
      drawText(ctx, 'negative', 1399, 306, { size: 21 });
    }
  }]
});

// ================= (E) Mantel test network heatmap =================
const stops = [[-1, [205, 55, 40]], [-0.5, [160, 68, 68]], [0, [104, 80, 108]], [0.5, [50, 95, 150]], [1, [22, 110, 182]]];
function corrColor(v) {
  for (let i = 0; i < stops.length - 1; i++) {
    const [v0, c0] = stops[i], [v1, c1] = stops[i + 1];
    if (v <= v1) {
      const t = (v - v0) / (v1 - v0);
      return 'rgb(' + c0.map((c, j) => Math.round(c + (c1[j] - c) * t)).join(',') + ')';
    }
  }
  return 'rgb(22,110,182)';
}
const mantelCells = [];
mantelCorr.forEach((row, i) => row.forEach((v, k) =>
  mantelCells.push({ x: i + 2 + k, y: i + 1, v: v, s: mantelStars[i][k] })));
const mantelDiag = mantelVars.map((n, i) => ({ x: i + 1, y: i + 1 }));
const mantelGroupPts = mantelGroupX.map((gx, k) => ({ x: gx, y: mantelGroupY[k] }));
const mantelSign = [mantelSignControl, mantelSignModel, mantelSignSe, mantelSignAcu];
const mantelR = [mantelRControl, mantelRModel, mantelRSe, mantelRAcu];

new Chart(document.getElementById('chartE'), {
  type: 'scatter',
  data: { datasets: [
    { data: mantelCells, pointStyle: 'rect', borderWidth: 0,
      pointRadius: c => (22 + 6 * Math.abs(c.raw.v)) / Math.SQRT2,
      backgroundColor: c => corrColor(c.raw.v), order: 3 },
    { data: mantelDiag, pointStyle: 'circle', pointRadius: 6, backgroundColor: '#D8283F', borderColor: '#5B3A8E', borderWidth: 1, order: 1 },
    { data: mantelGroupPts, pointStyle: 'circle', pointRadius: 6, backgroundColor: '#D8283F', borderColor: '#5B3A8E', borderWidth: 1, order: 1 }
  ] },
  options: {
    responsive: false,
    layout: { padding: 0 },
    scales: {
      x: { type: 'linear', display: false, min: -3.153, max: 29.333 },
      y: { type: 'linear', display: false, reverse: true, min: -8.774, max: 17.412 }
    }
  },
  plugins: [{
    id: 'mantelDecor',
    beforeDatasetsDraw(chart) {
      const { ctx, scales: { x, y } } = chart;
      const half = (x.getPixelForValue(1) - x.getPixelForValue(0)) / 2;
      ctx.save();
      ctx.strokeStyle = '#cdcdcd'; ctx.lineWidth = 1.3;
      mantelCells.forEach(c => {
        const px = x.getPixelForValue(c.x), py = y.getPixelForValue(c.y);
        ctx.strokeRect(px - half, py - half, 2 * half, 2 * half);
      });
      ctx.strokeStyle = '#2D78BA';
      mantelGroupX.forEach((gxv, k) => {
        const gx = x.getPixelForValue(gxv), gy = y.getPixelForValue(mantelGroupY[k]);
        mantelVars.forEach((n, i) => {
          const tx = x.getPixelForValue(i + 1), ty = y.getPixelForValue(i + 1);
          const dx = tx - gx, dy = ty - gy, len = Math.hypot(dx, dy);
          const bend = 80 / len;
          const qx = (gx + tx) / 2 + dy * bend, qy = (gy + ty) / 2 - dx * bend;
          ctx.lineWidth = [2.5, 4, 5.5][mantelR[k][i]];
          ctx.setLineDash(mantelSign[k][i] > 0 ? [] : [9, 6]);
          ctx.beginPath(); ctx.moveTo(gx, gy); ctx.quadraticCurveTo(qx, qy, tx, ty); ctx.stroke();
        });
      });
      ctx.restore();
    },
    afterDatasetsDraw(chart) {
      const { ctx, scales: { x, y } } = chart;
      mantelCells.forEach(c => {
        if (c.s > 0) drawText(ctx, '*'.repeat(c.s), x.getPixelForValue(c.x), y.getPixelForValue(c.y) + 5,
          { size: 16, weight: 'bold', align: 'center', color: '#111' });
      });
      mantelVars.forEach((n, i) => {
        drawText(ctx, n, x.getPixelForValue(i + 1) - 3, 319, { size: 17.5, base: 'alphabetic', rot: -Math.PI / 4 });
        drawText(ctx, n, 758, y.getPixelForValue(i + 1), { size: 17.5 });
      });
      const gl = [[35, 446], [170, 595], [274, 746], [407, 896]];
      groupNames.forEach((g, k) => drawText(ctx, g, gl[k][0], gl[k][1], { size: 18, align: 'center' }));
      drawText(ctx, 'Mantel-test Network heamap', 552, 62, { size: 23, weight: 'bold', align: 'center' });
      // legend
      const lx = 1038, tx = 1063;
      drawText(ctx, "Mantel's p", 1040, 230, { size: 17, weight: 'bold' });
      seg(ctx, lx, 257, lx + 20, 257, '#9a9a9a', 2); drawText(ctx, '<0.05', tx, 257, { size: 17 });
      seg(ctx, lx, 284, lx + 20, 284, '#3A7FC0', 2); drawText(ctx, '>=0.05', tx, 284, { size: 17 });
      drawText(ctx, 'Relationship', 1040, 350, { size: 17, weight: 'bold' });
      seg(ctx, lx, 378, lx + 20, 378, '#cccccc', 1.5); drawText(ctx, 'positive', tx, 378, { size: 17 });
      seg(ctx, lx, 406, lx + 20, 406, '#cccccc', 1.5, [4, 3]); drawText(ctx, 'negative', tx, 406, { size: 17 });
      drawText(ctx, "Mantel's r", 1040, 485, { size: 17, weight: 'bold' });
      seg(ctx, lx, 511, lx + 20, 511, '#d0d0d0', 2); drawText(ctx, '<0.4', tx, 511, { size: 17 });
      seg(ctx, lx, 540, lx + 20, 540, '#d0d0d0', 4); drawText(ctx, '0.4-0.6', tx, 540, { size: 17 });
      seg(ctx, lx, 566, lx + 20, 566, '#d0d0d0', 6); drawText(ctx, '>=0.6', tx, 566, { size: 17 });
      drawText(ctx, 'Correlation', 1040, 640, { size: 17, weight: 'bold' });
      const bx = 1050, by = 659, bw = 29, bh = 146;
      const g = ctx.createLinearGradient(0, by, 0, by + bh);
      stops.forEach(([v]) => g.addColorStop((1 - v) / 2, corrColor(v)));
      ctx.save(); ctx.fillStyle = g; ctx.fillRect(bx, by, bw, bh); ctx.restore();
      [1, 0.5, 0, -0.5, -1].forEach(v => {
        const ty = by + (1 - v) / 2 * bh;
        seg(ctx, bx + bw - 4, ty, bx + bw, ty, '#ffffff', 1);
        drawText(ctx, String(v), bx + bw + 8, ty, { size: 17 });
      });
    }
  }]
});

// ================= (F) network =================
const netPos = {};
netMetaNames.forEach((n, i) => { netPos[n] = netMetaPos[i]; });
netMicroNames.forEach((n, i) => { netPos[n] = netMicroPos[i]; });
const edgeSets = [];
netNegative.forEach(e => edgeSets.push({ data: pts([netPos[e[0]], netPos[e[1]]]), showLine: true,
  borderColor: '#4E9F79', borderWidth: 1.4, pointRadius: 0, order: 5 }));
netPositive.forEach(e => edgeSets.push({ data: pts([netPos[e[0]], netPos[e[1]]]), showLine: true,
  borderColor: '#EE5E5E', borderWidth: 1.4, pointRadius: 0, order: 4 }));

new Chart(document.getElementById('chartF'), {
  type: 'scatter',
  data: { datasets: [
    { data: pts(netMetaPos), pointStyle: 'circle', pointRadius: 12, backgroundColor: '#E2442C', borderWidth: 0, order: 1 },
    { data: pts(netMicroPos), pointStyle: 'circle', pointRadius: 12, backgroundColor: '#3DB5D0', borderWidth: 0, order: 1 }
  ].concat(edgeSets) },
  options: {
    responsive: false,
    layout: { padding: 0 },
    scales: {
      x: { type: 'linear', display: false, min: 0, max: 155.96 },
      y: { type: 'linear', display: false, reverse: true, min: 0, max: 156.0 }
    }
  },
  plugins: [{
    id: 'netDecor',
    afterDatasetsDraw(chart) {
      const { ctx, scales: { x, y } } = chart;
      Object.keys(netPos).forEach(n => {
        const p = netPos[n];
        drawText(ctx, n, x.getPixelForValue(p[0]), y.getPixelForValue(p[1]) - 25, { size: 17, align: 'center', color: '#1a1a1a' });
      });
      drawText(ctx, 'Network analysis', 476, 157, { size: 24, weight: 'bold', align: 'center' });
      marker(ctx, 'circle', 10, 850, 330, '#E2442C'); drawText(ctx, 'Metabolome', 861, 330, { size: 16.5 });
      marker(ctx, 'circle', 10, 850, 355, '#3DB5D0'); drawText(ctx, 'Microbiome', 861, 355, { size: 16.5 });
      seg(ctx, 841, 658, 861, 658, '#EE5E5E', 1.5); drawText(ctx, 'positive', 866, 658, { size: 16.5 });
      seg(ctx, 841, 683, 861, 683, '#4E9F79', 1.5); drawText(ctx, 'negative', 866, 683, { size: 16.5 });
    }
  }]
});
</script>
</body>
</html>
